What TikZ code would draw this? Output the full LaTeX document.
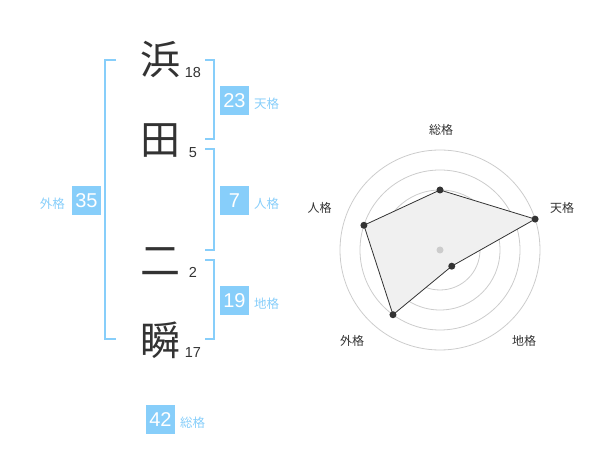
\documentclass[tikz,border=0pt]{standalone}
\usepackage{fontspec}
\setmainfont{Liberation Sans}
\newfontfamily\cjk{Noto Sans CJK JP}
\definecolor{kblue}{HTML}{87CEFA}
\definecolor{klabel}{HTML}{87CEFA}
\definecolor{kdark}{HTML}{333333}
\definecolor{kgrid}{HTML}{CCCCCC}
\definecolor{kfill}{HTML}{F0F0F0}
\begin{document}
\begin{tikzpicture}[x=1pt,y=-1pt,
  kanji/.style={inner sep=0pt,text=kdark,font=\fontsize{40}{40}\selectfont\cjk},
  strokes/.style={inner sep=0pt,anchor=base,text=kdark,font=\fontsize{14.5}{15}\selectfont},
  numbox/.style={fill=kblue,text=white,minimum size=29pt,inner sep=0pt,font=\fontsize{20}{20}\selectfont},
  kaku/.style={inner sep=0pt,text=klabel,font=\fontsize{12.5}{13}\selectfont\cjk},
  bracket/.style={draw=kblue,line width=2pt},
  ring/.style={draw=kgrid,line width=0.8pt},
  axlabel/.style={inner sep=0pt,text=kdark,font=\fontsize{12}{13}\selectfont\cjk},
  dot/.style={circle,fill=kdark,inner sep=0pt,minimum size=7pt}]
\useasboundingbox (0,0) rectangle (600,470);
% characters
\node[kanji] (c1) at (160,60) {浜};
\node[kanji] (c2) at (160,141) {田};
\node[kanji] (c3) at (160,262) {二};
\node[kanji] (c4) at (160,340) {瞬};
\node[strokes] (s1) at (193,78) {18};
\node[strokes] (s2) at (193,158) {5};
\node[strokes] (s3) at (193,278) {2};
\node[strokes] (s4) at (193,358) {17};
% brackets
\draw[bracket] (116,60) -- (105,60) -- (105,339) -- (116,339);
\draw[bracket] (205,60) -- (214,60) -- (214,139) -- (205,139);
\draw[bracket] (205,149) -- (214,149) -- (214,250) -- (205,250);
\draw[bracket] (205,260) -- (214,260) -- (214,339) -- (205,339);
% boxes
\node[numbox] (b23) at (234.5,100.5) {23};
\node[kaku,anchor=west] (l23) at (254,104) {天格};
\node[numbox] (b7) at (234.5,200.5) {7};
\node[kaku,anchor=west] (l7) at (254,204) {人格};
\node[numbox] (b19) at (234.5,300.5) {19};
\node[kaku,anchor=west] (l19) at (254,304) {地格};
\node[numbox] (b35) at (86.5,200.5) {35};
\node[kaku,anchor=east] (l35) at (65,204) {外格};
\node[numbox] (b42) at (160.5,419.5) {42};
\node[kaku,anchor=west] (l42) at (180,423) {総格};
% radar
\coordinate (O) at (440,250);
\foreach \r in {20,40,60,80,100} \draw[ring] (O) circle[radius=\r];
\path (O) ++(0,-60) coordinate (pS);
\path (O) ++({100*cos(18)},{-100*sin(18)}) coordinate (pT);
\path (O) ++({20*cos(-54)},{-20*sin(-54)}) coordinate (pC);
\path (O) ++({80*cos(234)},{-80*sin(234)}) coordinate (pG);
\path (O) ++({80*cos(162)},{-80*sin(162)}) coordinate (pJ);
\filldraw[fill=kfill,draw=kdark,line width=0.8pt] (pS) -- (pT) -- (pC) -- (pG) -- (pJ) -- cycle;
\fill[kgrid] (O) circle[radius=3.5];
\foreach \p in {pS,pT,pC,pG,pJ} \node[dot] at (\p) {};
\node[axlabel] (aS) at (441,130) {総格};
\node[axlabel] (aT) at (562,208) {天格};
\node[axlabel] (aC) at (524,341) {地格};
\node[axlabel] (aG) at (352,341) {外格};
\node[axlabel] (aJ) at (319.5,208) {人格};
\end{tikzpicture}
\end{document}
